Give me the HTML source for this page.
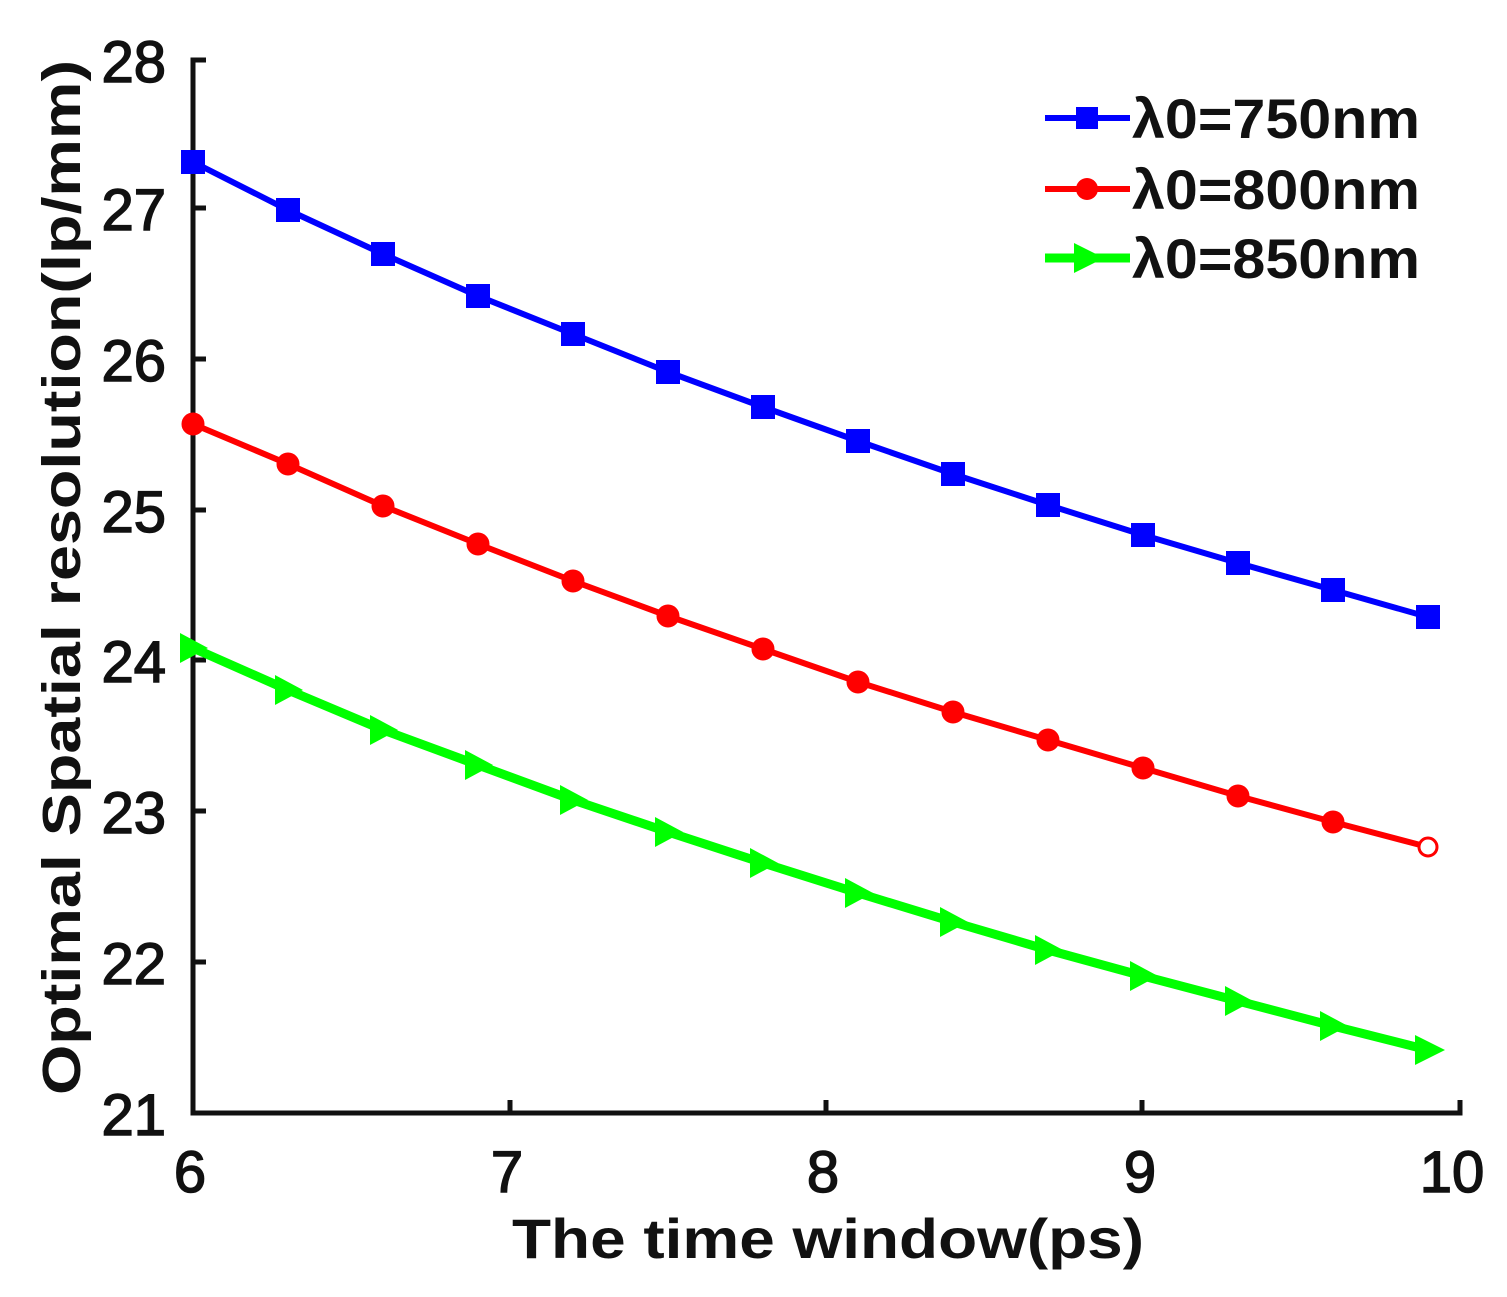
<!DOCTYPE html>
<html><head><meta charset="utf-8"><style>html,body{margin:0;padding:0;background:#fff}svg{display:block}</style></head>
<body>
<svg width="1507" height="1297" viewBox="0 0 1507 1297" xmlns="http://www.w3.org/2000/svg" font-family="Liberation Sans, sans-serif" font-weight="bold">
<rect width="1507" height="1297" fill="#fff"/>
<g stroke="#111" stroke-width="5" fill="none">
<path d="M206,60 H193 V1113 H1460 V1100"/>
<path d="M193,208 H206 M193,359 H206 M193,510 H206 M193,660 H206 M193,811 H206 M193,962 H206"/>
<path d="M510,1113 V1100 M826,1113 V1100 M1142,1113 V1100"/>
</g>
<g font-size="58" fill="#111" text-anchor="end" font-weight="normal" stroke="#111" stroke-width="1.5">
<text x="166" y="82">28</text><text x="166" y="230">27</text><text x="166" y="381">26</text>
<text x="166" y="532">25</text><text x="166" y="682">24</text><text x="166" y="833">23</text>
<text x="166" y="984">22</text><text x="166" y="1135">21</text>
</g>
<g font-size="58" fill="#111" text-anchor="middle" font-weight="normal" stroke="#111" stroke-width="1.5">
<text x="190" y="1192">6</text><text x="507" y="1192">7</text><text x="823" y="1192">8</text>
<text x="1140" y="1192">9</text><text x="1452" y="1192">10</text>
</g>
<text x="512" y="1258" font-size="56" textLength="632" lengthAdjust="spacingAndGlyphs" fill="#111">The time window(ps)</text>
<text transform="translate(80,1095) rotate(-90)" font-size="54" textLength="1035" lengthAdjust="spacingAndGlyphs" fill="#111">Optimal Spatial resolution(lp/mm)</text>
<polyline fill="none" stroke="#0000ff" stroke-width="6" points="193,162 288,210 383,254 478,296 573,334 668,372 763,407 858,441 953,474 1048,505 1143,535 1238,563 1333,590 1428,617"/>
<g fill="#0000ff">
<rect x="181" y="150" width="24" height="24"/><rect x="276" y="198" width="24" height="24"/><rect x="371" y="242" width="24" height="24"/><rect x="466" y="284" width="24" height="24"/><rect x="561" y="322" width="24" height="24"/><rect x="656" y="360" width="24" height="24"/><rect x="751" y="395" width="24" height="24"/><rect x="846" y="429" width="24" height="24"/><rect x="941" y="462" width="24" height="24"/><rect x="1036" y="493" width="24" height="24"/><rect x="1131" y="523" width="24" height="24"/><rect x="1226" y="551" width="24" height="24"/><rect x="1321" y="578" width="24" height="24"/><rect x="1416" y="605" width="24" height="24"/>
</g>
<polyline fill="none" stroke="#ff0000" stroke-width="6" points="193,424 288,464 383,506 478,544 573,581 668,616 763,649 858,682 953,712 1048,740 1143,768 1238,796 1333,822 1428,847"/>
<g fill="#ff0000" stroke="#ff0000" stroke-width="3">
<circle cx="193" cy="424" r="10"/><circle cx="288" cy="464" r="10"/><circle cx="383" cy="506" r="10"/><circle cx="478" cy="544" r="10"/><circle cx="573" cy="581" r="10"/><circle cx="668" cy="616" r="10"/><circle cx="763" cy="649" r="10"/><circle cx="858" cy="682" r="10"/><circle cx="953" cy="712" r="10"/><circle cx="1048" cy="740" r="10"/><circle cx="1143" cy="768" r="10"/><circle cx="1238" cy="796" r="10"/><circle cx="1333" cy="822" r="10"/><circle cx="1428" cy="847" r="9" fill="#fff"/>
</g>
<polyline fill="none" stroke="#00ff00" stroke-width="9" points="193,648 288,690 383,730 478,765 573,800 668,832 763,863 858,893 953,922 1048,950 1143,976 1238,1001 1333,1026 1428,1050"/>
<g fill="#00ff00">
<path d="M180,633 L208,648 L180,663Z"/><path d="M275,675 L303,690 L275,705Z"/><path d="M370,715 L398,730 L370,745Z"/><path d="M465,750 L493,765 L465,780Z"/><path d="M560,785 L588,800 L560,815Z"/><path d="M655,817 L683,832 L655,847Z"/><path d="M750,848 L778,863 L750,878Z"/><path d="M845,878 L873,893 L845,908Z"/><path d="M940,907 L968,922 L940,937Z"/><path d="M1035,935 L1063,950 L1035,965Z"/><path d="M1130,961 L1158,976 L1130,991Z"/><path d="M1225,986 L1253,1001 L1225,1016Z"/><path d="M1320,1011 L1348,1026 L1320,1041Z"/><path d="M1415,1035 L1445,1050 L1415,1065Z"/>
</g>
<g font-size="56" fill="#111">
<line x1="1045" y1="118" x2="1130" y2="118" stroke="#0000ff" stroke-width="6"/><rect x="1076" y="107" width="22" height="22" fill="#0000ff"/>
<text x="1132" y="138" textLength="288" lengthAdjust="spacingAndGlyphs">λ0=750nm</text>
<line x1="1045" y1="189" x2="1130" y2="189" stroke="#ff0000" stroke-width="6"/><circle cx="1087" cy="189" r="11" fill="#ff0000"/>
<text x="1132" y="209" textLength="288" lengthAdjust="spacingAndGlyphs">λ0=800nm</text>
<line x1="1045" y1="258" x2="1130" y2="258" stroke="#00ff00" stroke-width="9"/><path d="M1074,243 L1104,258 L1074,273Z" fill="#00ff00"/>
<text x="1132" y="278" textLength="288" lengthAdjust="spacingAndGlyphs">λ0=850nm</text>
</g>
</svg>
</body></html>
